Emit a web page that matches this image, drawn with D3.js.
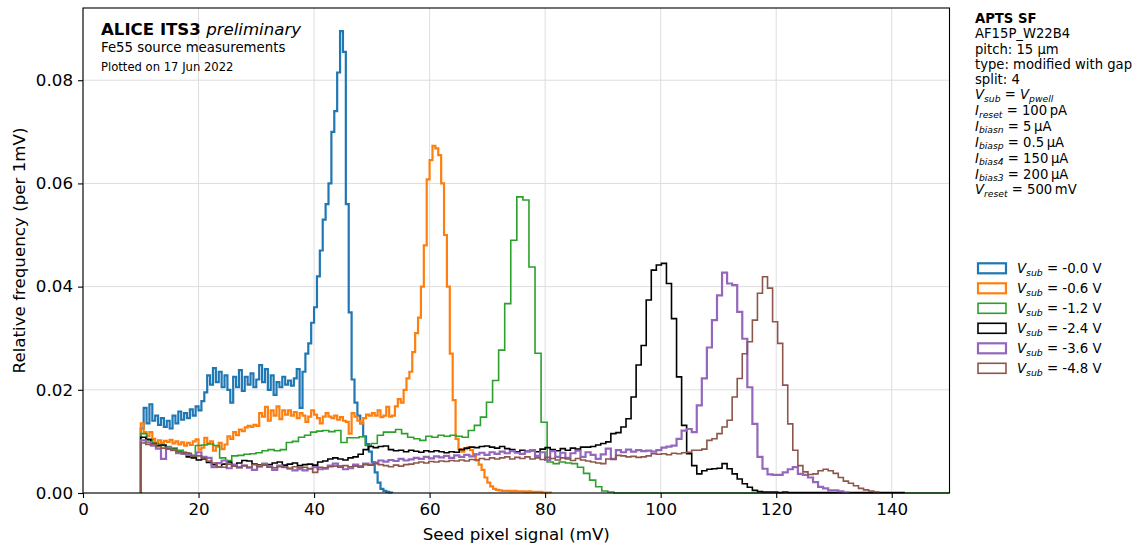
<!DOCTYPE html>
<html>
<head>
<meta charset="utf-8">
<script src="https://cdn.jsdelivr.net/npm/d3@7"></script>
<style>
  body { margin: 0; background: #ffffff; }
  svg text { font-family: "DejaVu Sans", sans-serif; fill: #000; }
</style>
</head>
<body>
<div class="Hist-Chart"></div>
<script>
// Histogram settings: all series start at 10 mV, bin width differs per V_sub
const binStart = 10;
const vsubLabels = ["-0.0", "-0.6", "-1.2", "-2.4", "-3.6", "-4.8"];
const binWidths = [0.5, 0.5, 1.05, 0.875, 0.875, 0.875];
const xTicks = [0, 20, 40, 60, 80, 100, 120, 140];
const yTicks = [0, 0.02, 0.04, 0.06, 0.08];

// Relative frequency per bin
const vsub00 = [
  0.0125, 0.0165, 0.0135, 0.0172, 0.0140, 0.0150, 0.0132, 0.0145, 0.0128, 0.0140,
  0.0125, 0.0150, 0.0135, 0.0158, 0.0142, 0.0155, 0.0145, 0.0162, 0.0150, 0.0168,
  0.0160, 0.0178, 0.0195, 0.0228, 0.0210, 0.0242, 0.0215, 0.0235, 0.0205, 0.0228,
  0.0200, 0.0175, 0.0225, 0.0205, 0.0238, 0.0198, 0.0225, 0.0210, 0.0232, 0.0205,
  0.0220, 0.0248, 0.0215, 0.0240, 0.0200, 0.0228, 0.0190, 0.0215, 0.0205, 0.0225,
  0.0210, 0.0218, 0.0208, 0.0222, 0.0240, 0.0165, 0.0235, 0.0270, 0.0290, 0.0330,
  0.0360, 0.0420, 0.0470, 0.0530, 0.0560, 0.0600, 0.0700, 0.0740, 0.0815, 0.0895,
  0.0855, 0.0560, 0.0350, 0.0220, 0.0175, 0.0150, 0.0135, 0.0110, 0.0095, 0.0080,
  0.0060, 0.0040, 0.0020, 0.0008, 0.0004, 0.0002, 0.0001
];
const vsub06 = [
  0.0135, 0.0118, 0.0110, 0.0118, 0.0105, 0.0098, 0.0102, 0.0097, 0.0101, 0.0099,
  0.0103, 0.0096, 0.0100, 0.0094, 0.0098, 0.0092, 0.0097, 0.0093, 0.0100, 0.0104,
  0.0084, 0.0088, 0.0107, 0.0096, 0.0100, 0.0082, 0.0090, 0.0097, 0.0085, 0.0094,
  0.0110, 0.0105, 0.0118, 0.0112, 0.0123, 0.0120, 0.0127, 0.0130, 0.0128, 0.0132,
  0.0130, 0.0155, 0.0148, 0.0167, 0.0140, 0.0160, 0.0150, 0.0168, 0.0143, 0.0160,
  0.0152, 0.0160, 0.0150, 0.0157, 0.0145, 0.0155, 0.0150, 0.0138, 0.0148, 0.0160,
  0.0152, 0.0145, 0.0135, 0.0148, 0.0155, 0.0148, 0.0145, 0.0150, 0.0142, 0.0147,
  0.0140, 0.0138, 0.0115, 0.0155, 0.0148, 0.0140, 0.0135, 0.0145, 0.0152, 0.0150,
  0.0155, 0.0150, 0.0160, 0.0147, 0.0150, 0.0167, 0.0148, 0.0150, 0.0168, 0.0182,
  0.0175, 0.0200, 0.0222, 0.0235, 0.0273, 0.0310, 0.0340, 0.0400, 0.0480, 0.0608,
  0.0645, 0.0673, 0.0668, 0.0655, 0.0600, 0.0500, 0.0400, 0.0270, 0.0180, 0.0105,
  0.0085, 0.0080, 0.0085, 0.0088, 0.0083, 0.0075, 0.0063, 0.0055, 0.0045, 0.0030,
  0.0020, 0.0013, 0.0008, 0.0006, 0.0005, 0.0004, 0.0004, 0.0004, 0.0003, 0.0004,
  0.0003, 0.0003, 0.0003, 0.0002, 0.0003, 0.0002, 0.0002, 0.0002, 0.0002, 0.0001,
  0.0001, 0.0001
];
const vsub12 = [
  0.0115, 0.0103, 0.0096, 0.0092, 0.0090, 0.0087, 0.0083, 0.0078, 0.0073, 0.0092,
  0.0093, 0.0095, 0.0092, 0.0068, 0.0063, 0.0072, 0.0073, 0.0075, 0.0076, 0.0078,
  0.0082, 0.0084, 0.0082, 0.0084, 0.0098, 0.0100, 0.0108, 0.0112, 0.0118, 0.0120,
  0.0121, 0.0119, 0.0121, 0.0098, 0.0107, 0.0107, 0.0109, 0.0092, 0.0096, 0.0112,
  0.0118, 0.0118, 0.0123, 0.0115, 0.0108, 0.0105, 0.0102, 0.0110, 0.0108, 0.0112,
  0.0110, 0.0112, 0.0110, 0.0108, 0.0121, 0.0131, 0.0147, 0.0176, 0.0218, 0.0277,
  0.0367, 0.0490, 0.0574, 0.0568, 0.0438, 0.0271, 0.0137, 0.0060, 0.0057, 0.0060,
  0.0058, 0.0057, 0.0050, 0.0038, 0.0025, 0.0012, 0.0004, 0.0002, 0, 0,
  0, 0, 0, 0, 0, 0, 0, 0, 0, 0,
  0, 0, 0, 0, 0, 0, 0, 0, 0, 0,
  0, 0, 0, 0, 0, 0, 0, 0, 0, 0,
  0, 0, 0, 0, 0, 0, 0, 0, 0, 0,
  0, 0, 0, 0, 0, 0, 0, 0, 0, 0,
  0, 0, 0, 0
];
const vsub24 = [
  0.0108, 0.0104, 0.0096, 0.0092, 0.0093, 0.0086, 0.0084, 0.0080, 0.0076, 0.0070,
  0.0068, 0.0064, 0.0066, 0.0059, 0.0055, 0.0051, 0.0056, 0.0060, 0.0055, 0.0058,
  0.0063, 0.0062, 0.0056, 0.0054, 0.0057, 0.0055, 0.0058, 0.0060, 0.0054, 0.0056,
  0.0058, 0.0053, 0.0055, 0.0056, 0.0054, 0.0060, 0.0062, 0.0066, 0.0068, 0.0066,
  0.0064, 0.0068, 0.0070, 0.0075, 0.0084, 0.0090, 0.0088, 0.0090, 0.0091, 0.0084,
  0.0082, 0.0083, 0.0080, 0.0083, 0.0081, 0.0079, 0.0082, 0.0080, 0.0082, 0.0080,
  0.0078, 0.0080, 0.0079, 0.0084, 0.0087, 0.0089, 0.0088, 0.0090, 0.0091, 0.0089,
  0.0087, 0.0090, 0.0086, 0.0084, 0.0080, 0.0083, 0.0081, 0.0082, 0.0080, 0.0085,
  0.0088, 0.0084, 0.0082, 0.0086, 0.0083, 0.0087, 0.0085, 0.0089, 0.0089, 0.0090,
  0.0093, 0.0096, 0.0099, 0.0115, 0.0117, 0.0128, 0.0144, 0.0186, 0.0248, 0.0286,
  0.0374, 0.0432, 0.0442, 0.0445, 0.0406, 0.0338, 0.0225, 0.0131, 0.0076, 0.0053,
  0.0037, 0.0043, 0.0046, 0.0047, 0.0048, 0.0057, 0.0047, 0.0037, 0.0027, 0.0018,
  0.0011, 0.0005, 0.0003, 0.0002, 0.0002, 0.0002, 0.0001, 0.0002, 0.0001, 0.0001,
  0.0001, 0.0001, 0.0001, 0.0001, 0.0001, 0.0001, 0.0001, 0.0001, 0.0001, 0.0001,
  0.0001, 0.0001, 0.0001, 0.0001, 0.0001, 0.0001, 0.0001, 0.0001, 0.0001, 0.0001,
  0.0001
];
const vsub36 = [
  0.0102, 0.0098, 0.0092, 0.0086, 0.0066, 0.0088, 0.0083, 0.0077, 0.0078, 0.0074,
  0.0072, 0.0079, 0.0070, 0.0068, 0.0050, 0.0058, 0.0063, 0.0048, 0.0054, 0.0050,
  0.0053, 0.0049, 0.0045, 0.0052, 0.0056, 0.0051, 0.0045, 0.0053, 0.0050, 0.0047,
  0.0044, 0.0046, 0.0044, 0.0047, 0.0050, 0.0046, 0.0047, 0.0053, 0.0057, 0.0052,
  0.0046, 0.0048, 0.0055, 0.0052, 0.0057, 0.0055, 0.0059, 0.0063, 0.0061, 0.0064,
  0.0062, 0.0066, 0.0063, 0.0065, 0.0068, 0.0066, 0.0070, 0.0067, 0.0071, 0.0069,
  0.0072, 0.0068, 0.0073, 0.0070, 0.0074, 0.0071, 0.0075, 0.0078, 0.0074, 0.0079,
  0.0076, 0.0080, 0.0077, 0.0081, 0.0078, 0.0076, 0.0080, 0.0083, 0.0072, 0.0079,
  0.0064, 0.0081, 0.0070, 0.0078, 0.0068, 0.0077, 0.0082, 0.0070, 0.0079, 0.0074,
  0.0066, 0.0075, 0.0086, 0.0066, 0.0083, 0.0079, 0.0084, 0.0080, 0.0083, 0.0081,
  0.0082, 0.0080, 0.0083, 0.0088, 0.0090, 0.0092, 0.0105, 0.0121, 0.0124, 0.0118,
  0.0170, 0.0222, 0.0282, 0.0335, 0.0383, 0.0427, 0.0406, 0.0403, 0.0351, 0.0299,
  0.0205, 0.0134, 0.0070, 0.0047, 0.0036, 0.0035, 0.0035, 0.0040, 0.0046, 0.0050,
  0.0037, 0.0035, 0.0030, 0.0021, 0.0012, 0.0009, 0.0005, 0.0005, 0.0003, 0.0001
];
const vsub48 = [
  0.0097, 0.0094, 0.0095, 0.0090, 0.0087, 0.0085, 0.0083, 0.0080, 0.0079, 0.0077,
  0.0071, 0.0072, 0.0068, 0.0062, 0.0058, 0.0051, 0.0050, 0.0056, 0.0052, 0.0049,
  0.0053, 0.0050, 0.0055, 0.0051, 0.0054, 0.0050, 0.0049, 0.0051, 0.0050, 0.0048,
  0.0051, 0.0049, 0.0050, 0.0047, 0.0040, 0.0050, 0.0049, 0.0051, 0.0052, 0.0050,
  0.0053, 0.0051, 0.0052, 0.0050, 0.0055, 0.0054, 0.0057, 0.0055, 0.0053, 0.0051,
  0.0054, 0.0052, 0.0055, 0.0056, 0.0058, 0.0060, 0.0058, 0.0061, 0.0060, 0.0062,
  0.0061, 0.0063, 0.0062, 0.0064, 0.0062, 0.0065, 0.0064, 0.0067, 0.0065, 0.0068,
  0.0066, 0.0068, 0.0070, 0.0066, 0.0069, 0.0067, 0.0070, 0.0066, 0.0068, 0.0065,
  0.0069, 0.0067, 0.0064, 0.0068, 0.0066, 0.0063, 0.0067, 0.0064, 0.0062, 0.0060,
  0.0058, 0.0057, 0.0066, 0.0065, 0.0073, 0.0072, 0.0070, 0.0071, 0.0069, 0.0070,
  0.0072, 0.0076, 0.0075, 0.0076, 0.0074, 0.0077, 0.0076, 0.0078, 0.0079, 0.0083,
  0.0083, 0.0085, 0.0102, 0.0105, 0.0115, 0.0128, 0.0141, 0.0186, 0.0222, 0.0270,
  0.0293, 0.0335, 0.0387, 0.0419, 0.0397, 0.0332, 0.0290, 0.0209, 0.0134, 0.0083,
  0.0053, 0.0041, 0.0036, 0.0037, 0.0043, 0.0046, 0.0043, 0.0038, 0.0030, 0.0023,
  0.0019, 0.0014, 0.0009, 0.0006, 0.0004, 0.0002
];
const seriesValues = [vsub00, vsub06, vsub12, vsub24, vsub36, vsub48];

// Text blocks
const titleLines = ["Fe55 source measurements", "Plotted on 17 Jun 2022"];
const infoLines = [
  [["APTS SF", "b"]],
  [["AF15P_W22B4", "n"]],
  [["pitch: 15 \u00b5m", "n"]],
  [["type: modified with gap", "n"]],
  [["split: 4", "n"]],
  [["V", "i"], ["sub", "s"], ["\u00a0=\u00a0", "n"], ["V", "i"], ["pwell", "s"]],
  [["I", "i"], ["reset", "s"], ["\u00a0=\u00a0100\u2009pA", "n"]],
  [["I", "i"], ["biasn", "s"], ["\u00a0=\u00a05\u2009\u00b5A", "n"]],
  [["I", "i"], ["biasp", "s"], ["\u00a0=\u00a00.5\u2009\u00b5A", "n"]],
  [["I", "i"], ["bias4", "s"], ["\u00a0=\u00a0150\u2009\u00b5A", "n"]],
  [["I", "i"], ["bias3", "s"], ["\u00a0=\u00a0200\u2009\u00b5A", "n"]],
  [["V", "i"], ["reset", "s"], ["\u00a0=\u00a0500\u2009mV", "n"]]
];

// Styles
const colors = ["#1f77b4", "#ff7f0e", "#2ca02c", "#000000", "#9467bd", "#8c564b"];
const lineWidths = [2.2, 2.2, 1.6, 1.6, 2.2, 1.6];

// Dimensions
const width = 1137;
const height = 544;
const margin = { top: 8, right: 187.5, bottom: 51, left: 83 };
const innerWidth = width - margin.left - margin.right;
const innerHeight = height - margin.top - margin.bottom;

const svg = d3.select(".Hist-Chart")
  .append("svg")
  .attr("width", width)
  .attr("height", height);

const chart = svg.append("g")
  .attr("transform", `translate(${margin.left}, ${margin.top})`);

const xScale = d3.scaleLinear().domain([0, 150]).range([0, innerWidth]);
const yScale = d3.scaleLinear().domain([0, 0.094]).range([innerHeight, 0]);

// Grid
chart.append("g").selectAll("line")
  .data(xTicks).join("line")
  .attr("x1", d => xScale(d)).attr("x2", d => xScale(d))
  .attr("y1", 0).attr("y2", innerHeight)
  .attr("stroke", "#dedede").attr("stroke-width", 1);

chart.append("g").selectAll("line")
  .data(yTicks).join("line")
  .attr("x1", 0).attr("x2", innerWidth)
  .attr("y1", d => yScale(d)).attr("y2", d => yScale(d))
  .attr("stroke", "#dedede").attr("stroke-width", 1);

// Histograms as step lines
chart.append("clipPath").attr("id", "plot-clip")
  .append("rect").attr("width", innerWidth).attr("height", innerHeight + 2).attr("y", -1);

const line = d3.line()
  .x(d => xScale(d[0]))
  .y(d => yScale(d[1]))
  .curve(d3.curveStepAfter);

function stepPoints(values, w) {
  const pts = [[binStart, 0]];
  values.forEach((v, i) => pts.push([binStart + i * w, v]));
  const end = binStart + values.length * w;
  pts.push([end, values[values.length - 1]]);
  pts.push([end, 0]);
  return pts;
}

const plot = chart.append("g").attr("clip-path", "url(#plot-clip)");
seriesValues.forEach((vals, i) => {
  plot.append("path")
    .datum(stepPoints(vals, binWidths[i]))
    .attr("d", line)
    .attr("fill", "none")
    .attr("stroke", colors[i])
    .attr("stroke-width", lineWidths[i])
    .attr("stroke-linejoin", "miter");
});

// Axes
const xAxis = chart.append("g")
  .attr("transform", `translate(0, ${innerHeight})`)
  .call(d3.axisBottom(xScale).tickValues(xTicks).tickSize(5).tickPadding(5).tickSizeOuter(0));

const yAxis = chart.append("g")
  .call(d3.axisLeft(yScale).tickValues(yTicks).tickFormat(d3.format(".2f")).tickSize(5).tickPadding(5).tickSizeOuter(0));

[xAxis, yAxis].forEach(ax => {
  ax.select(".domain").remove();
  ax.selectAll("line").attr("stroke", "#000").attr("stroke-width", 1.1);
  ax.selectAll("text")
    .style("font-size", "16.7px")
    .style("font-family", "DejaVu Sans")
    .attr("fill", "#000");
});

// Frame
chart.append("rect")
  .attr("width", innerWidth).attr("height", innerHeight)
  .attr("fill", "none").attr("stroke", "#000").attr("stroke-width", 1.1);

// Axis labels
svg.append("text")
  .attr("x", margin.left + innerWidth / 2)
  .attr("y", 540)
  .attr("text-anchor", "middle")
  .style("font-size", "16.7px")
  .text("Seed pixel signal (mV)");

svg.append("text")
  .attr("transform", `translate(25, ${margin.top + innerHeight / 2}) rotate(-90)`)
  .attr("text-anchor", "middle")
  .style("font-size", "16.7px")
  .text("Relative frequency (per 1mV)");

// Title block inside the plot
const head = svg.append("text").attr("x", 101).attr("y", 34.7).style("font-size", "16.6px");
head.append("tspan").style("font-weight", "bold").text("ALICE ITS3");
head.append("tspan").style("font-style", "italic").text("\u00a0preliminary");

svg.append("text").attr("x", 101).attr("y", 52.3).style("font-size", "13.3px").text(titleLines[0]);
svg.append("text").attr("x", 101).attr("y", 71.3).style("font-size", "11.6px").text(titleLines[1]);

// Rich text helper for subscripts
function richText(sel, segs, size) {
  let lowered = false;
  segs.forEach(([txt, kind]) => {
    const t = sel.append("tspan").text(txt);
    if (kind === "b") t.style("font-weight", "bold");
    if (kind === "i") t.style("font-style", "italic");
    if (kind === "s") {
      t.style("font-style", "italic").style("font-size", (size * 0.7) + "px");
      if (!lowered) { t.attr("dy", size * 0.2); lowered = true; }
    } else if (lowered) {
      t.attr("dy", -size * 0.2);
      lowered = false;
    }
  });
}

// Info block on the right: plain lines, then slightly taller math lines
infoLines.forEach((segs, i) => {
  const y = i < 5 ? 23 + i * 15.25 : 99 + (i - 5) * 15.9;
  const t = svg.append("text")
    .attr("x", 975)
    .attr("y", y)
    .style("font-size", "13.2px");
  richText(t, segs, 13.2);
});

// Legend
const legend = svg.append("g").attr("transform", "translate(978, 268.3)");
vsubLabels.forEach((lab, i) => {
  const row = legend.append("g").attr("transform", `translate(0, ${i * 20})`);
  row.append("rect")
    .attr("x", 0).attr("y", -5)
    .attr("width", 28).attr("height", 10)
    .attr("fill", "#fff")
    .attr("stroke", colors[i])
    .attr("stroke-width", lineWidths[i]);
  const t = row.append("text").attr("x", 39).attr("y", 4.8).style("font-size", "13.3px");
  richText(t, [["V", "i"], ["sub", "s"], [`\u00a0=\u00a0${lab}\u00a0V`, "n"]], 13.3);
});
</script>
</body>
</html>
